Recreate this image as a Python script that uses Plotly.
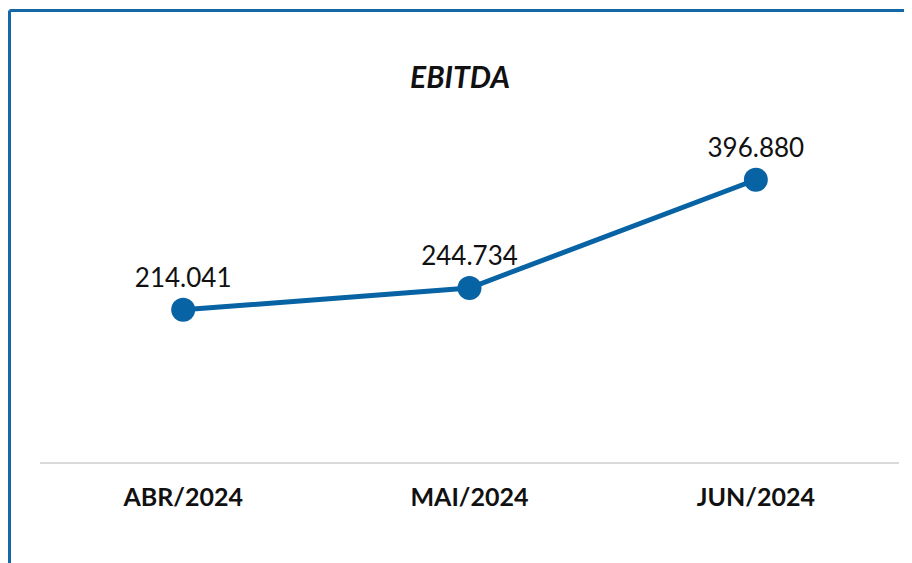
"""EBITDA monthly line chart."""

import plotly.graph_objects as go

months = ["ABR/2024", "MAI/2024", "JUN/2024"]
ebitda = [214041, 244734, 396880]
ebitda_labels = ["214.041", "244.734", "396.880"]

LINE_COLOR = "#0763A3"
BORDER_COLOR = "#1468A6"
FONT = "Lato, 'Open Sans', sans-serif"

fig = go.Figure()

fig.add_trace(
    go.Scatter(
        x=months,
        y=ebitda,
        mode="lines+markers+text",
        text=ebitda_labels,
        textposition="top center",
        textfont=dict(family=FONT, size=26, color="#111111"),
        line=dict(color=LINE_COLOR, width=5),
        marker=dict(size=24, color=LINE_COLOR),
        cliponaxis=False,
        showlegend=False,
    )
)

# Frame lines at left and top of the card
fig.add_shape(type="line", xref="paper", yref="paper",
              x0=-0.0355, x1=1.1, y0=1.411, y1=1.411,
              line=dict(color=BORDER_COLOR, width=3))
fig.add_shape(type="line", xref="paper", yref="paper",
              x0=-0.0355, x1=-0.0355, y0=1.411, y1=-0.4,
              line=dict(color=BORDER_COLOR, width=3))

fig.update_layout(
    width=904,
    height=555,
    margin=dict(l=32, r=13, t=134, b=101),
    title=dict(
        text="<b><i>EBITDA</i></b>",
        x=0.5,
        xanchor="center",
        y=1 - 69 / 555,
        yanchor="middle",
        font=dict(family=FONT, size=30, color="#111111"),
    ),
    xaxis=dict(
        range=[-0.5, 2.5],
        showgrid=False,
        showline=True,
        linecolor="#D9D9D9",
        linewidth=2,
        ticks="outside",
        ticklen=12,
        tickcolor="rgba(0,0,0,0)",
        tickfont=dict(family=FONT, size=25, color="#111111", weight="bold"),
    ),
    yaxis=dict(
        range=[0, 450000],
        visible=False,
        showgrid=False,
        zeroline=False,
    ),
    plot_bgcolor="white",
    paper_bgcolor="white",
)

fig.write_html("out.html")
